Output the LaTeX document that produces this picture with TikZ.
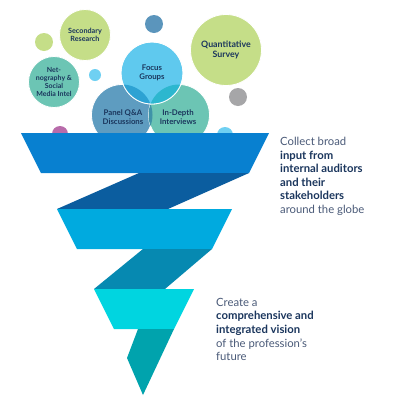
\documentclass[tikz,border=0pt]{standalone}
\usepackage{fontspec}
\setmainfont{Lato}
\definecolor{navy}{HTML}{1B365D}
\definecolor{greytxt}{HTML}{4A5A78}
\definecolor{lime}{HTML}{C5DE88}
\definecolor{tealc}{HTML}{6CC5B4}
\definecolor{skyc}{HTML}{5FC9EE}
\definecolor{steelc}{HTML}{5E9CC0}
\definecolor{dotblue}{HTML}{5B95BC}
\definecolor{dotgrey}{HTML}{A6A6A8}
\definecolor{dotmag}{HTML}{B86BAA}
\definecolor{dotsky}{HTML}{6FD0F2}
\definecolor{fa}{HTML}{0880D0}
\definecolor{fb}{HTML}{0B5D9F}
\definecolor{fc}{HTML}{00AADF}
\definecolor{fd}{HTML}{0689B1}
\definecolor{fe}{HTML}{00D5E0}
\definecolor{ff}{HTML}{00A3AD}
\definecolor{ovPF}{HTML}{2DA2D3}
\definecolor{ovIF}{HTML}{2CB7CF}
\definecolor{ovPI}{HTML}{3F93A8}
\tikzset{
  bubble/.style={circle, draw=white, line width=0.8pt, inner sep=0pt, align=center,
    text=navy, font=\bfseries\fontsize{7.5}{8.5}\selectfont},
  dot/.style={circle, inner sep=0pt},
  sidetext/.style={anchor=north west, inner sep=0pt, align=left, text=greytxt,
    font=\fontsize{11.3}{13.6}\selectfont},
  x=1pt, y=-1pt
}
\begin{document}
\begin{tikzpicture}
\useasboundingbox (0,0) rectangle (400,408);
\fill[white] (0,0) rectangle (400,408);
% small dots
\node[dot, fill=lime, minimum size=18pt] (d1) at (44,42) {};
\node[dot, fill=dotblue, minimum size=18pt] (d2) at (154,24) {};
\node[dot, fill=dotsky, minimum size=12pt] (d3) at (95,75) {};
\node[dot, fill=dotgrey, minimum size=18pt] (d4) at (238,97) {};
\node[dot, fill=dotmag, minimum size=16pt] (d5) at (60,134) {};
\node[dot, fill=dotsky, minimum size=16pt] (d6) at (225,135) {};
% bubbles
\node[bubble, fill=lime, minimum size=51pt, font=\bfseries\fontsize{7.2}{8.3}\selectfont] (sec) at (85,35) {Secondary\\Research};
\node[bubble, fill=lime, minimum size=71pt, font=\bfseries\fontsize{8.8}{10.5}\selectfont] (quant) at (226,50) {Quantitative\\Survey};
\node[bubble, fill=tealc, minimum size=51pt, font=\bfseries\fontsize{7}{8}\selectfont] (net) at (54,82) {Net-\\nography \&\\Social\\Media Intel};
\node[bubble, fill=steelc, minimum size=61pt] (panel) at (122,115) {};
\node[bubble, fill=tealc, minimum size=61pt] (indepth) at (179,115) {};
\begin{scope}
  \clip (122,115) circle[radius=30.5];
  \fill[ovPI] (179,115) circle[radius=30.5];
\end{scope}
\node[bubble, fill=skyc, minimum size=62pt] (focus) at (152,73) {};
\begin{scope}
  \clip (152,73) circle[radius=31];
  \fill[ovPF] (122,115) circle[radius=30.5];
  \fill[ovIF] (179,115) circle[radius=30.5];
\end{scope}
\draw[white, line width=0.8pt] (152,73) circle[radius=31];
\node[text=navy, font=\bfseries\fontsize{7.8}{9}\selectfont, align=center] (focust) at (152,73) {Focus\\Groups};
\node[text=navy, font=\bfseries\fontsize{7.8}{9}\selectfont, align=center] (panelt) at (123,117) {Panel Q\&A\\Discussions};
\node[text=navy, font=\bfseries\fontsize{7.8}{9}\selectfont, align=center] (indeptht) at (178,117) {In-Depth\\Interviews};
% funnel
\fill[fa] (21,133) -- (269,133) -- (249,173) -- (41,173) -- cycle;
\fill[fb] (139,173) -- (249,173) -- (168,209) -- (57,209) -- cycle;
\fill[fc] (57,209) -- (232,209) -- (212,249) -- (77,249) -- cycle;
\fill[fd] (143,249) -- (212,249) -- (165,289) -- (94,289) -- cycle;
\fill[fe] (94,289) -- (194,289) -- (174,329) -- (114,329) -- cycle;
\fill[ff] (138,329) -- (174,329) -- (143,395) -- (127,358) -- cycle;
% side texts
\node[sidetext] (t1) at (280,137) {Collect broad\\\textcolor{navy}{\bfseries input from}\\\textcolor{navy}{\bfseries internal auditors}\\\textcolor{navy}{\bfseries and their}\\\textcolor{navy}{\bfseries stakeholders}\\around the globe};
\node[sidetext] (t2) at (216,298) {Create a\\\textcolor{navy}{\bfseries comprehensive and}\\\textcolor{navy}{\bfseries integrated vision}\\of the profession's\\future};
\end{tikzpicture}
\end{document}
